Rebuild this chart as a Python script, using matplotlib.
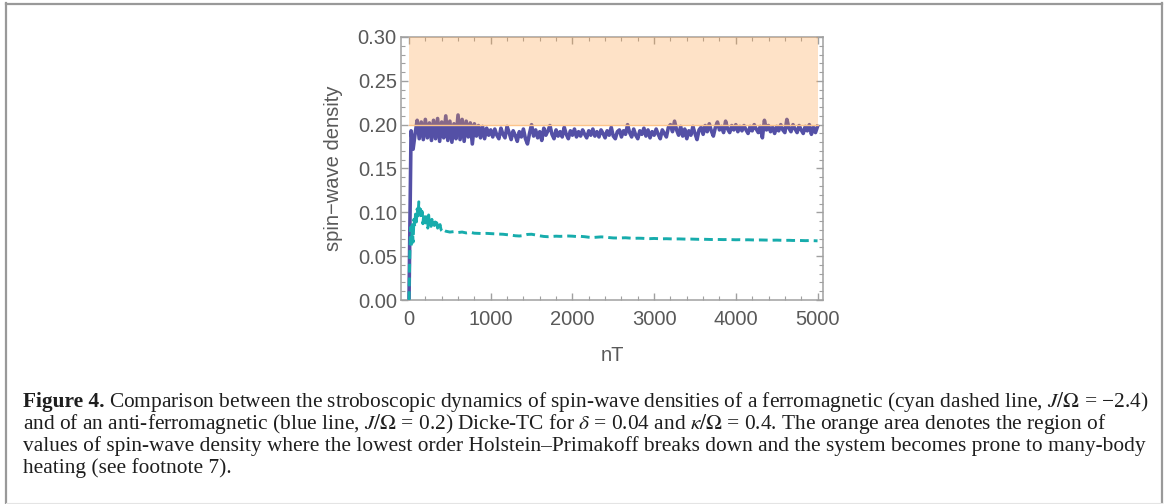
import matplotlib
matplotlib.use("Agg")
import matplotlib.pyplot as plt
from matplotlib.lines import Line2D
from matplotlib.ticker import MultipleLocator, FormatStrFormatter

# anti-ferromagnetic (blue, solid), sampled every 25 nT
blue_early = [0.000, 0.193, 0.172, 0.190,
              0.205, 0.184, 0.203, 0.183, 0.206, 0.185, 0.202, 0.182, 0.205, 0.184,
              0.207, 0.181, 0.203, 0.185, 0.210, 0.182, 0.204, 0.180, 0.201, 0.184,
              0.211, 0.183, 0.206, 0.181, 0.204, 0.186, 0.202, 0.178, 0.201, 0.187,
              0.199, 0.185, 0.198, 0.184, 0.196]
blue_late = [0.188, 0.194, 0.186, 0.195, 0.188, 0.184, 0.196, 0.189, 0.185, 0.198,
             0.191, 0.183, 0.193, 0.188, 0.181, 0.192, 0.186, 0.195, 0.184, 0.178,
             0.190, 0.200, 0.187, 0.194, 0.185, 0.192, 0.182, 0.196, 0.188, 0.193,
             0.199, 0.189, 0.184, 0.194, 0.187, 0.192, 0.186, 0.197, 0.189, 0.184,
             0.193, 0.188, 0.195, 0.186, 0.192, 0.187, 0.194, 0.189, 0.185, 0.193,
             0.188, 0.195, 0.187, 0.192, 0.186, 0.194, 0.190, 0.185, 0.193, 0.188,
             0.197, 0.187, 0.184, 0.192, 0.194, 0.186, 0.193, 0.189, 0.200, 0.191,
             0.186, 0.195, 0.188, 0.184, 0.193, 0.189, 0.196, 0.187, 0.194, 0.185,
             0.192, 0.188, 0.195, 0.189, 0.184, 0.194, 0.190, 0.186, 0.197, 0.200,
             0.192, 0.204, 0.194, 0.188, 0.198, 0.187, 0.195, 0.184, 0.193, 0.188,
             0.198, 0.190, 0.183, 0.194, 0.197, 0.189, 0.199, 0.192, 0.201, 0.193,
             0.187, 0.197, 0.203, 0.194, 0.198, 0.191, 0.204, 0.195, 0.191, 0.199,
             0.194, 0.200, 0.192, 0.198, 0.193, 0.199, 0.194, 0.190, 0.198, 0.193,
             0.200, 0.195, 0.191, 0.198, 0.185, 0.205, 0.194, 0.199, 0.192, 0.197,
             0.190, 0.198, 0.193, 0.200, 0.194, 0.191, 0.206, 0.196, 0.192, 0.200,
             0.195, 0.191, 0.199, 0.194, 0.190, 0.198, 0.193, 0.200, 0.189, 0.197,
             0.191, 0.198]
blue = blue_early + blue_late
blue_nT = [25 * i for i in range(len(blue))]

# ferromagnetic (cyan, dashed)
cyan_nT = list(range(0, 421, 10)) + list(range(450, 5001, 50))
cyan = [0.000, 0.055, 0.083, 0.062, 0.086, 0.066, 0.092, 0.084, 0.098, 0.089,
        0.104, 0.096, 0.112, 0.099, 0.106, 0.093, 0.101, 0.087, 0.097, 0.090,
        0.099, 0.085, 0.094, 0.082, 0.097, 0.088, 0.093, 0.084, 0.092, 0.086,
        0.091, 0.085, 0.089, 0.083, 0.088, 0.082, 0.087, 0.084, 0.086, 0.081,
        0.079, 0.078, 0.080,
        0.0785, 0.0775, 0.0780, 0.0770, 0.0775, 0.0765, 0.0772, 0.0762, 0.0760, 0.0758,
        0.0760, 0.0757, 0.0755, 0.0752, 0.0750, 0.0745, 0.0740, 0.0733, 0.0730, 0.0735,
        0.0748, 0.0750, 0.0742, 0.0732, 0.0725, 0.0722, 0.0725, 0.0728, 0.0726, 0.0728,
        0.0730, 0.0728, 0.0724, 0.0726, 0.0722, 0.0716, 0.0713, 0.0716, 0.0720, 0.0718,
        0.0712, 0.0708, 0.0707, 0.0709, 0.0710, 0.0706, 0.0703, 0.0705, 0.0704, 0.0701,
        0.0700, 0.0702, 0.0700, 0.0698, 0.0699, 0.0697, 0.0696, 0.0697, 0.0695, 0.0694,
        0.0695, 0.0693, 0.0692, 0.0693, 0.0691, 0.0690, 0.0691, 0.0690, 0.0689, 0.0690,
        0.0688, 0.0687, 0.0688, 0.0686, 0.0687, 0.0685, 0.0684, 0.0685, 0.0684, 0.0683,
        0.0682, 0.0683, 0.0681, 0.0680, 0.0681, 0.0679, 0.0680, 0.0678, 0.0677, 0.0678,
        0.0676, 0.0675]

# region where Holstein-Primakoff breaks down
heat_nT = [0, 5000]
heat_lo = 0.20
heat_hi = 0.30

caption_lines = [
    "Comparison between the stroboscopic dynamics of spin-wave densities of a ferromagnetic (cyan dashed line, $J/\\Omega$ = \u22122.4)",
    "and of an anti-ferromagnetic (blue line, $J/\\Omega$ = 0.2) Dicke-TC for $\\delta$ = 0.04 and $\\kappa/\\Omega$ = 0.4. The orange area denotes the region of",
    "values of spin-wave density where the lowest order Holstein\u2013Primakoff breaks down and the system becomes prone to many-body",
    "heating (see footnote 7).",
]

W, H = 1168, 504
fig = plt.figure(figsize=(W / 100, H / 100), dpi=100)
plt.rcParams['mathtext.fontset'] = 'stix'

ax = fig.add_axes([401 / W, 1 - 300 / H, 422 / W, 263 / H])
gray = '#a0a0a0'
txt = '#595959'

ax.plot(blue_nT, blue, color='#5450a6', lw=2.6, zorder=2)
ax.plot(cyan_nT, cyan, color='#17acac', lw=2.1, dashes=(3.0, 1.7), zorder=3)
ax.fill_between(heat_nT, heat_lo, heat_hi, color='#fda046', alpha=0.3, lw=0, zorder=4)
ax.plot(heat_nT, [heat_lo, heat_lo], color='#fdc48a', lw=1.0, zorder=4)

ax.set_xlim(-98, 5067)
ax.set_ylim(0, 0.30)
ax.xaxis.set_major_locator(MultipleLocator(1000))
ax.xaxis.set_minor_locator(MultipleLocator(200))
ax.yaxis.set_major_locator(MultipleLocator(0.05))
ax.yaxis.set_minor_locator(MultipleLocator(0.01))
ax.yaxis.set_major_formatter(FormatStrFormatter('%.2f'))

for s in ax.spines.values():
    s.set_color(gray)
    s.set_linewidth(1.1)
ax.tick_params(which='both', direction='in', top=True, right=True, color=gray,
               labelcolor=txt, labelsize=14.5, labelfontfamily='Liberation Sans')
ax.tick_params(which='major', length=5.0, width=1.0)
ax.tick_params(which='minor', length=2.8, width=0.8)
ax.tick_params(axis='y', pad=3)
ax.tick_params(axis='x', pad=7)

ax.set_ylabel('spin\u2212wave density', fontsize=14.5, color=txt, family='Liberation Sans')
ax.set_xlabel('nT', fontsize=14.5, color=txt, family='Liberation Sans')
ax.yaxis.set_label_coords(-0.137, 0.5)
ax.xaxis.set_label_coords(0.502, -0.175)

# caption, sized so that the first line spans the text block width
x0 = 23
x_right = 1150
ys = [407, 429, 451, 473]
cap_color = '#1e1e1e'


def draw_caption(fs):
    t1 = fig.text(x0 / W, 1 - ys[0] / H, 'Figure 4.', fontsize=fs, weight='bold',
                  family='Liberation Serif', va='baseline', color=cap_color)
    fig.canvas.draw()
    bb = t1.get_window_extent()
    t2 = fig.text((bb.x1 + 4) / W, 1 - ys[0] / H, caption_lines[0], fontsize=fs,
                  family='Liberation Serif', va='baseline', color=cap_color)
    rest = [fig.text(x0 / W, 1 - y / H, line, fontsize=fs, family='Liberation Serif',
                     va='baseline', color=cap_color)
            for line, y in zip(caption_lines[1:], ys[1:])]
    return [t1, t2] + rest


texts = draw_caption(12.6)
fig.canvas.draw()
width = texts[1].get_window_extent().x1 - x0
for t in texts:
    t.remove()
draw_caption(12.6 * (x_right - x0) / width)

# outer box of the figure panel
box = dict(transform=fig.transFigure, color='#999999', lw=1.6)
fig.add_artist(Line2D([6 / W, 6 / W], [1 - 3 / H, 0], **box))
fig.add_artist(Line2D([6 / W, 1162 / W], [1 - 3.5 / H, 1 - 3.5 / H], **box))
fig.add_artist(Line2D([1162 / W, 1162 / W], [1 - 3 / H, 0], **box))
fig.add_artist(Line2D([6 / W, 1162 / W], [1.5 / H, 1.5 / H], transform=fig.transFigure,
                      color='#e4e4e4', lw=0.8))

fig.savefig('out.png', dpi=100)
